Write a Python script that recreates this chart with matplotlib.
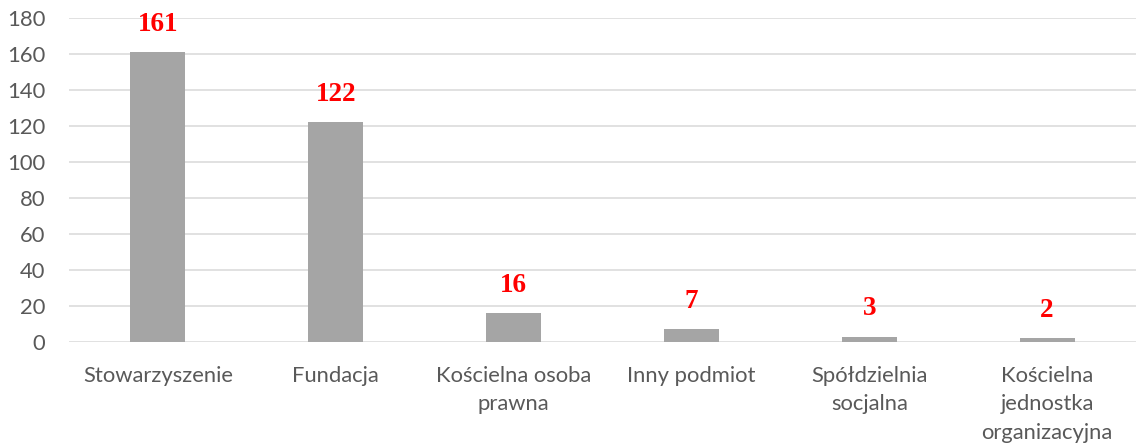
import matplotlib.pyplot as plt
import numpy as np

# dane
kategorie = ["Stowarzyszenie", "Fundacja", "Kościelna osoba\nprawna", "Inny podmiot",
             "Spółdzielnia\nsocjalna", "Kościelna\njednostka\norganizacyjna"]
wartosci = [161, 122, 16, 7, 3, 2]
y_ticks = [0, 20, 40, 60, 80, 100, 120, 140, 160, 180]

fig = plt.figure(figsize=(11.36, 4.45), dpi=100)
ax = fig.add_axes([0.0607, 0.2315, 0.9393, 0.7281])

x = np.arange(len(kategorie))
ax.bar(x, wartosci, width=0.31, color="#A5A5A5", zorder=3)

for xi, v in zip(x, wartosci):
    ax.annotate(str(v), (xi, v), xytext=(0, 11), textcoords="offset points",
                ha="center", va="bottom", color="red", fontsize=19.5,
                fontweight="bold", family="Liberation Serif")

ax.set_xlim(-0.5, len(kategorie) - 0.5)
ax.set_ylim(0, 180)
ax.set_yticks(y_ticks)
ax.set_xticks(x)
ax.set_xticklabels(kategorie, family="Lato", fontsize=15.8, color="#595959",
                   linespacing=1.55)
for lab in ax.get_yticklabels():
    lab.set_family("Lato")
    lab.set_fontsize(15.8)
    lab.set_color("#595959")

ax.grid(axis="y", color="#D9D9D9", linewidth=1.1, zorder=0)
ax.tick_params(axis="both", length=0)
ax.tick_params(axis="x", pad=17)
ax.tick_params(axis="y", pad=17)
for s in ax.spines.values():
    s.set_visible(False)

fig.savefig("out.png", dpi=100)
